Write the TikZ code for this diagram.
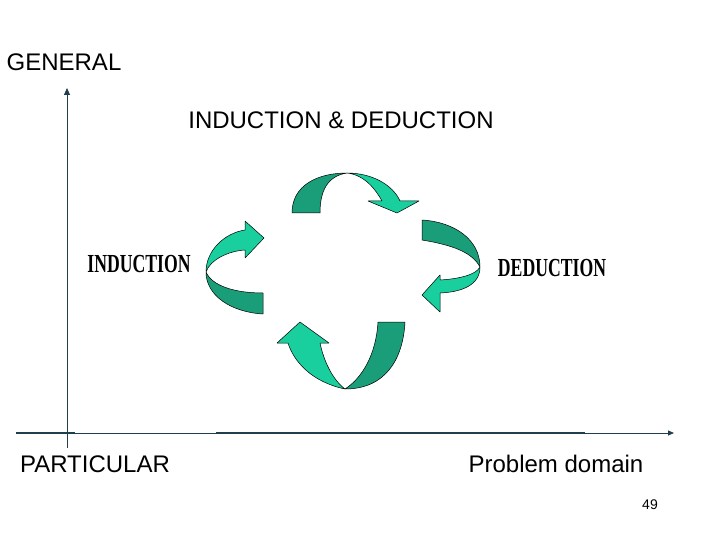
\documentclass[tikz,border=0pt]{standalone}
\usepackage{fontspec}
\setmainfont{Liberation Sans}
\newfontfamily\serifb{Liberation Serif}
\usetikzlibrary{arrows.meta}
\begin{document}
\begin{tikzpicture}[x=1pt,y=-1pt,
  lbl/.style={inner sep=0pt,font=\fontsize{24}{28}\selectfont,text=black},
  wa/.style={inner sep=0pt,font=\serifb\bfseries\fontsize{26}{28}\selectfont},
  dk/.style={fill=dkgreen,draw=black,line width=0.5pt,line join=round},
  lt/.style={fill=ltgreen,draw=black,line width=0.5pt,line join=round},
  axis/.style={draw=axcol,line width=0.8pt}]
\definecolor{dkgreen}{HTML}{1A9E7A}
\definecolor{ltgreen}{HTML}{19CF9E}
\definecolor{axcol}{HTML}{1F3F4F}
\useasboundingbox (0,0) rectangle (720,540);
% axes
\coordinate (o) at (67,448);
\coordinate (ytop) at (67,88);
\coordinate (xl) at (16,433);
\coordinate (xr) at (674,433);
\draw[axis,-{Triangle[length=7pt,width=6pt]}] (o) -- (ytop);
\draw[axis,-{Triangle[length=6pt,width=5pt]}] (xl) -- (xr);
\draw[axcol,line width=2pt] (16,433) -- (75,433);
\draw[axcol,line width=2pt] (216,433) -- (585,433);
% labels
\node[lbl] (gen) at (64,62) {GENERAL};
\node[lbl] (title) at (341,120) {INDUCTION \& DEDUCTION};
\node[lbl] (part) at (95,464) {PARTICULAR};
\node[lbl] (pd) at (556,464) {Problem domain};
\node[inner sep=0pt,font=\fontsize{14}{16}\selectfont] (num) at (650,505) {49};
\node[wa] (ind) at (139,264) {\scalebox{0.68}[1]{INDUCTION}};
\node[wa] (ded) at (552,268) {\scalebox{0.68}[1]{DEDUCTION}};
% top arrow
\draw[dk] (292,213) .. controls (292,185) and (318,173) .. (347,173) .. controls (328,176) and (320,190) .. (320,213) -- cycle;
\draw[lt] (347,173) .. controls (372,173) and (393,185) .. (400,201) -- (419,201) -- (397,213) -- (368,201) -- (382,201) .. controls (376,190) and (365,175) .. (347,173);
% right arrow
\draw[dk] (422,220) .. controls (455,222) and (480,240) .. (480,267) .. controls (472,252) and (452,245) .. (422,240) -- cycle;
\draw[lt] (480,267) .. controls (480,285) and (462,292) .. (440,293) -- (440,312) -- (422,295) -- (440,275) -- (440,280) .. controls (458,279) and (476,275) .. (480,267);
% left arrow
\draw[dk] (263,314) .. controls (230,312) and (206,295) .. (206,272) .. controls (212,286) and (235,293) .. (263,293) -- cycle;
\draw[lt] (206,272) .. controls (206,250) and (225,233) .. (245,230) -- (245,221) -- (264,238) -- (245,258) -- (245,250) .. controls (228,251) and (210,260) .. (206,272);
% bottom arrow
\draw[dk] (378,322) -- (405,322) .. controls (403,360) and (385,389) .. (345,389) .. controls (362,378) and (376,355) .. (378,322) -- cycle;
\draw[lt] (345,389) .. controls (312,382) and (294,362) .. (288,343) -- (277,343) -- (300,322) -- (329,343) -- (320,343) .. controls (324,362) and (333,380) .. (345,389);
\end{tikzpicture}
\end{document}
